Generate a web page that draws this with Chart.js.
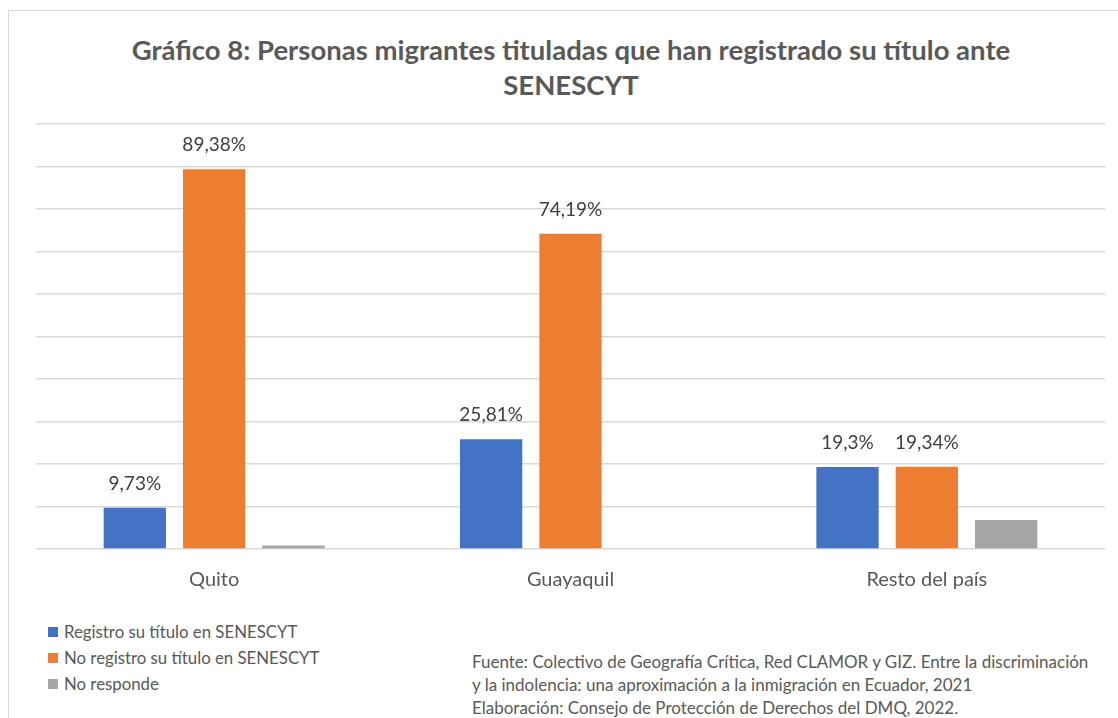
<!DOCTYPE html>
<html><head><meta charset="utf-8">
<script src="https://cdn.jsdelivr.net/npm/chart.js@4"></script>
<style>
html,body{margin:0;padding:0;background:#fff;width:1118px;height:718px;overflow:hidden;font-family:Lato,"Open Sans",sans-serif;}
#frame{position:absolute;left:8px;top:10px;width:1200px;height:800px;border:1.5px solid #d9d9d9;box-sizing:border-box;}
#title{position:absolute;left:12px;top:32px;width:1118px;text-align:center;color:#595959;font-weight:bold;font-size:27.5px;line-height:35px;}
#wrap{position:absolute;left:0;top:100px;width:1118px;height:500px;}
#legend{position:absolute;left:48px;top:619px;color:#595959;font-size:16.8px;}
#legend div{height:26px;line-height:22px;display:flex;align-items:center;}
#legend span.sw{display:inline-block;width:10px;height:10px;margin-right:6px;}
#source{position:absolute;left:472px;top:650px;color:#595959;font-size:17px;line-height:23px;white-space:nowrap;}
</style></head>
<body>
<div id="frame"></div>
<div id="title">Gráfico 8: Personas migrantes tituladas que han registrado su título ante<br>SENESCYT</div>
<div id="wrap"><canvas id="c" width="1118" height="500"></canvas></div>
<div id="legend"></div>
<div id="source">Fuente: Colectivo de Geografía Crítica, Red CLAMOR y GIZ. Entre la discriminación<br>y la indolencia: una aproximación a la inmigración en Ecuador, 2021<br>Elaboración: Consejo de Protección de Derechos del DMQ, 2022.</div>
<script>
const categories = ["Quito", "Guayaquil", "Resto del país"];
const seriesNames = ["Registro su título en SENESCYT", "No registro su título en SENESCYT", "No responde"];
const registro = [9.73, 25.81, 19.3];
const noRegistro = [89.38, 74.19, 19.34];
const noResponde = [0.8, 0, 6.8];
const registroLabels = ["9,73%", "25,81%", "19,3%"];
const noRegistroLabels = ["89,38%", "74,19%", "19,34%"];
const colors = ["#4472c4", "#ed7d31", "#a5a5a5"];

const labelSets = [registroLabels, noRegistroLabels, null];

const lg = document.getElementById('legend');
seriesNames.forEach((n, i) => {
  const d = document.createElement('div');
  d.innerHTML = '<span class="sw" style="background:' + colors[i] + '"></span>' + n;
  lg.appendChild(d);
});

const valueLabels = {
  id: 'valueLabels',
  afterDatasetsDraw(chart) {
    const ctx = chart.ctx;
    ctx.save();
    ctx.font = '19px Lato, "Open Sans", sans-serif';
    ctx.fillStyle = '#404040';
    ctx.textAlign = 'center';
    ctx.textBaseline = 'middle';
    chart.data.datasets.forEach((ds, di) => {
      const labs = labelSets[di];
      if (!labs) return;
      chart.getDatasetMeta(di).data.forEach((bar, i) => {
        ctx.fillText(labs[i], bar.x, bar.y - 24);
      });
    });
    ctx.restore();
  }
};

new Chart(document.getElementById('c'), {
  type: 'bar',
  data: {
    labels: categories,
    datasets: [
      { label: seriesNames[0], data: registro, backgroundColor: colors[0] },
      { label: seriesNames[1], data: noRegistro, backgroundColor: colors[1] },
      { label: seriesNames[2], data: noResponde, backgroundColor: colors[2] }
    ]
  },
  options: {
    responsive: false,
    animation: false,
    devicePixelRatio: 1,
    layout: { padding: { left: 36, right: 13, top: 24, bottom: 0 } },
    datasets: { bar: { categoryPercentage: 0.668, barPercentage: 0.785 } },
    plugins: { legend: { display: false }, title: { display: false }, tooltip: { enabled: false } },
    scales: {
      x: {
        grid: { display: false },
        border: { display: false },
        ticks: { color: '#595959', font: { family: 'Lato, "Open Sans", sans-serif', size: 20 }, padding: 11 },
        afterFit(s) { s.height = 51; }
      },
      y: {
        min: 0, max: 100,
        ticks: { display: false, stepSize: 10 },
        border: { display: false },
        grid: { color: '#d9d9d9', lineWidth: 1.5, drawTicks: false },
        afterFit(s) { s.width = 0; }
      }
    }
  },
  plugins: [valueLabels]
});
</script>
</body></html>
